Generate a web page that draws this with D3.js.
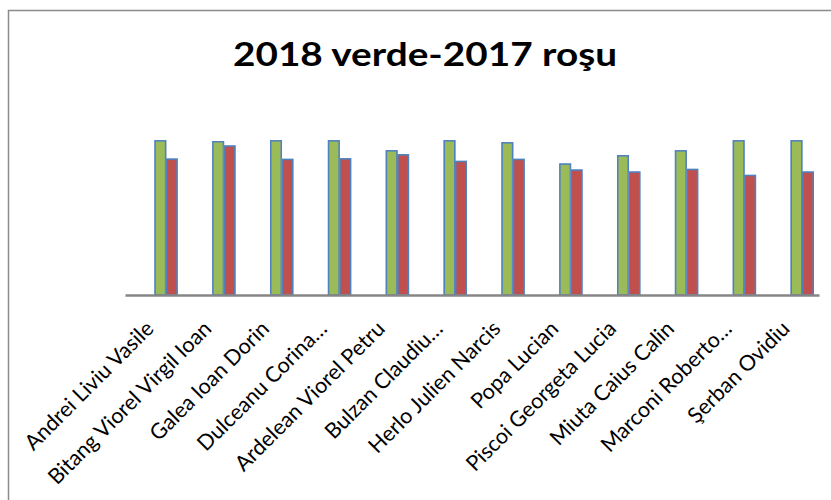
<!DOCTYPE html>
<html>
<head>
<meta charset="utf-8">
<script src="https://cdn.jsdelivr.net/npm/d3@7"></script>
<style>
  body { margin: 0; background: #fff; }
  svg { display: block; }
</style>
</head>
<body>
<svg id="chart" width="831" height="500"></svg>
<script>
// chart data (grades out of 10)
var categories = ["Andrei Liviu Vasile", "Bitang Viorel Virgil Ioan", "Galea Ioan Dorin",
  "Dulceanu Corina…", "Ardelean Viorel Petru", "Bulzan Claudiu…", "Herlo Julien Narcis",
  "Popa Lucian", "Piscoi Georgeta Lucia", "Miuta Caius Calin", "Marconi Roberto…", "Şerban Ovidiu"];
var series = ["2018", "2017"];
var values2018 = [10, 9.94, 10, 10, 9.35, 10, 9.87, 8.49, 9.03, 9.35, 10, 10];
var values2017 = [8.81, 9.66, 8.79, 8.83, 9.09, 8.66, 8.79, 8.10, 7.97, 8.14, 7.75, 7.97];
var colors = ["#9bbb59", "#c0504d"];
var title = "2018 verde-2017 roşu";

var svg = d3.select("#chart");
var width = +svg.attr("width");

var margin = {left: 125, right: 12, top: 110, bottom: 205};
var plotW = width - margin.left - margin.right;
var plotBottom = 295;

// outer frame
svg.append("rect")
    .attr("x", 8.5).attr("y", 10.5)
    .attr("width", 840).attr("height", 520)
    .attr("fill", "none")
    .attr("stroke", "#8c8c8c")
    .attr("stroke-width", 1.5);

svg.append("text")
    .attr("x", 425).attr("y", 66)
    .attr("text-anchor", "middle")
    .attr("font-family", "Lato, 'Open Sans', sans-serif")
    .attr("font-weight", "bold")
    .attr("font-size", 33)
    .attr("textLength", 384)
    .attr("lengthAdjust", "spacingAndGlyphs")
    .text(title);

var x = d3.scaleBand()
    .domain(categories)
    .range([margin.left, margin.left + plotW]);

var x1 = d3.scaleBand()
    .domain(series)
    .range([x.bandwidth() * 0.52, x.bandwidth() * 0.9])
    .paddingInner(0.08);

var y = d3.scaleLinear()
    .domain([0, 12])
    .range([plotBottom, margin.top]);

var rows = categories.map(function(c, i) {
  return {name: c, vals: [values2018[i], values2017[i]]};
});

var groups = svg.append("g").selectAll("g")
  .data(rows)
  .enter().append("g")
    .attr("transform", function(d) { return "translate(" + x(d.name) + ",0)"; });

groups.selectAll("rect")
  .data(function(d) { return d.vals.map(function(v, j) { return {s: series[j], v: v, j: j}; }); })
  .enter().append("rect")
    .attr("x", function(d) { return x1(d.s); })
    .attr("y", function(d) { return y(d.v); })
    .attr("width", x1.bandwidth())
    .attr("height", function(d) { return plotBottom - y(d.v); })
    .attr("fill", function(d) { return colors[d.j]; })
    .attr("stroke", "#4f81bd")
    .attr("stroke-width", 1.5)
    .style("filter", "drop-shadow(0 0 0.6px #9db9de)");

// category axis
var xAxis = d3.axisBottom(x).tickSize(0).tickPadding(0);
var gx = svg.append("g")
    .attr("transform", "translate(0," + plotBottom + ")")
    .call(xAxis);
gx.select(".domain").attr("stroke", "#868686").attr("stroke-width", 2.5);
gx.selectAll("text")
    .attr("font-family", "Lato, 'Open Sans', sans-serif")
    .attr("font-size", 21.5)
    .attr("fill", "#000")
    .attr("text-anchor", "end")
    .attr("dy", null)
    .attr("y", 0)
    .attr("transform", "translate(1,35) rotate(-45)");
</script>
</body>
</html>
